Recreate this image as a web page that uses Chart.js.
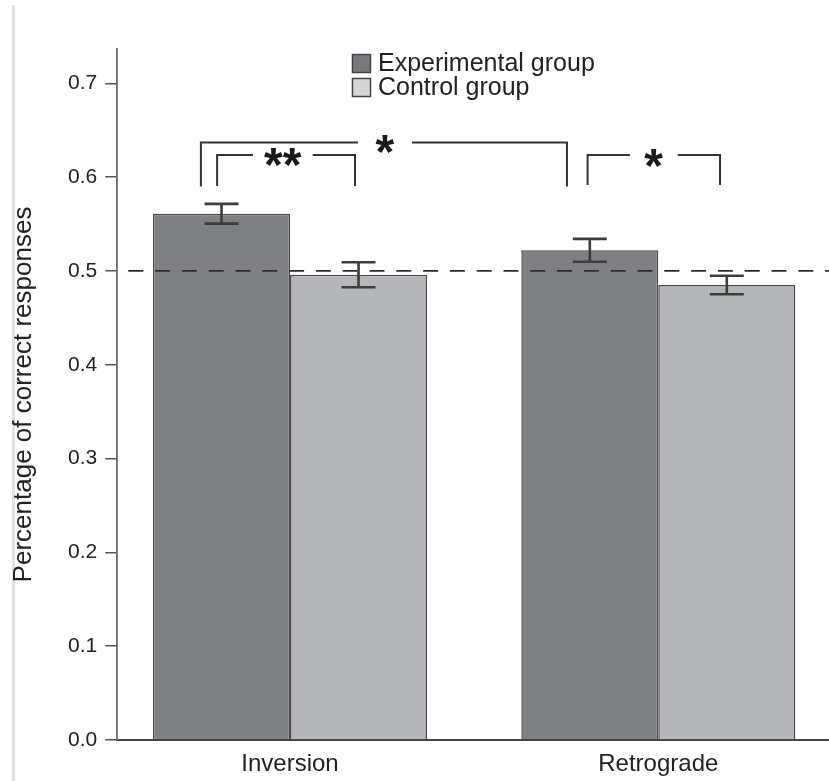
<!DOCTYPE html>
<html><head><meta charset="utf-8">
<script src="https://cdn.jsdelivr.net/npm/chart.js@4/dist/chart.umd.min.js"></script>
<style>html,body{margin:0;padding:0;background:#fff;}#wrap{width:829px;height:781px;position:relative;}</style>
</head><body><div id="wrap"><canvas id="c" width="829" height="781"></canvas></div>
<script>
// ---- data ----
const categories = ['Inversion', 'Retrograde'];
const seriesNames = ['Experimental group', 'Control group'];
const experimental = [0.561, 0.522];
const experimentalErr = [0.0105, 0.0122];
const control = [0.496, 0.485];
const controlErr = [0.0133, 0.0099];
const yTickValues = [0.0, 0.1, 0.2, 0.3, 0.4, 0.5, 0.6, 0.7];
const chanceLevel = 0.5;
// significance brackets, x in category-index units, y in value units
const bracketFrom = [-0.242, -0.198, 0.808];
const bracketTo = [0.752, 0.1765, 1.1676];
const bracketTop = [0.637, 0.6237, 0.6237];
const bracketBottom = [0.590, 0.5906, 0.5917];
const bracketGapFrom = [0.185, -0.1005, 0.923];
const bracketGapTo = [0.331, 0.0616, 1.0527];
const bracketLabelY = [0.635, 0.6215, 0.6205];
const bracketLabels = ['*', '**', '*'];

// ---- styles ----
const expColor = '#7f8084';
const ctrlColor = '#b5b6b9';
const expLegendColor = '#77787c';
const ctrlLegendColor = '#d6d6d6';
const edgeColor = '#4a4a4a';
const inkColor = '#333333';
const font = "'Liberation Sans', Arial, Helvetica, sans-serif";

const overlay = {
  id: 'overlay',
  beforeDraw(chart) {
    const ctx = chart.ctx;
    ctx.save();
    ctx.strokeStyle = '#e2e2e2';
    ctx.lineWidth = 3;
    ctx.beginPath(); ctx.moveTo(13.5, 5); ctx.lineTo(13.5, chart.height); ctx.stroke();
    ctx.restore();
  },
  afterDatasetsDraw(chart) {
    const ctx = chart.ctx, xs = chart.scales.x, ys = chart.scales.y, area = chart.chartArea;
    ctx.save();
    // chance line
    const yc = ys.getPixelForValue(chanceLevel);
    ctx.strokeStyle = '#2e2b33';
    ctx.lineWidth = 1.8;
    ctx.setLineDash([15, 11.8]);
    ctx.lineDashOffset = 15.8;
    ctx.beginPath(); ctx.moveTo(area.left, yc); ctx.lineTo(area.right, yc); ctx.stroke();
    ctx.setLineDash([]);
    // error bars
    const errs = [experimentalErr, controlErr];
    const vals = [experimental, control];
    ctx.strokeStyle = '#3a3e37';
    ctx.lineWidth = 2.6;
    for (let d = 0; d < 2; d++) {
      const meta = chart.getDatasetMeta(d);
      meta.data.forEach((bar, i) => {
        const x = bar.x;
        const yt = ys.getPixelForValue(vals[d][i] + errs[d][i]);
        const yb = ys.getPixelForValue(vals[d][i] - errs[d][i]);
        const hw = bar.width * 0.124;
        ctx.beginPath();
        ctx.moveTo(x, yt); ctx.lineTo(x, yb);
        ctx.moveTo(x - hw, yt); ctx.lineTo(x + hw, yt);
        ctx.moveTo(x - hw, yb); ctx.lineTo(x + hw, yb);
        ctx.stroke();
      });
    }
    // brackets
    ctx.strokeStyle = inkColor;
    ctx.lineWidth = 2;
    ctx.fillStyle = '#1a1a1a';
    ctx.font = 'bold 48px ' + font;
    for (let b = 0; b < bracketLabels.length; b++) {
      const x1 = xs.getPixelForValue(bracketFrom[b]);
      const x2 = xs.getPixelForValue(bracketTo[b]);
      const g1 = xs.getPixelForValue(bracketGapFrom[b]);
      const g2 = xs.getPixelForValue(bracketGapTo[b]);
      const yt = ys.getPixelForValue(bracketTop[b]);
      const yb = ys.getPixelForValue(bracketBottom[b]);
      ctx.beginPath();
      ctx.moveTo(x1, yb); ctx.lineTo(x1, yt); ctx.lineTo(g1, yt);
      ctx.moveTo(g2, yt); ctx.lineTo(x2, yt); ctx.lineTo(x2, yb);
      ctx.stroke();
      const m = ctx.measureText(bracketLabels[b]);
      const cx = (g1 + g2) / 2;
      const cy = ys.getPixelForValue(bracketLabelY[b]);
      ctx.textAlign = 'left';
      ctx.textBaseline = 'alphabetic';
      const x0 = cx - (m.actualBoundingBoxRight - m.actualBoundingBoxLeft) / 2;
      const y0 = cy + (m.actualBoundingBoxAscent - m.actualBoundingBoxDescent) / 2;
      ctx.fillText(bracketLabels[b], x0, y0);
    }
    // legend
    const legendColors = [expLegendColor, ctrlLegendColor];
    ctx.font = '25px ' + font;
    ctx.textBaseline = 'middle';
    ctx.textAlign = 'left';
    for (let s = 0; s < seriesNames.length; s++) {
      const top = 54.5 + s * 24;
      ctx.fillStyle = legendColors[s];
      ctx.fillRect(352.5, top, 18, 18);
      ctx.strokeStyle = '#444';
      ctx.lineWidth = 1.5;
      ctx.strokeRect(352.5, top, 18, 18);
      ctx.fillStyle = '#222';
      ctx.fillText(seriesNames[s], 378, top + 10);
    }
    ctx.restore();
  }
};

new Chart(document.getElementById('c'), {
  type: 'bar',
  data: {
    datasets: [
      { label: seriesNames[0], data: categories.map((c, i) => ({ x: i, y: experimental[i] })),
        backgroundColor: expColor, borderColor: edgeColor, borderWidth: 1.5 },
      { label: seriesNames[1], data: categories.map((c, i) => ({ x: i, y: control[i] })),
        backgroundColor: ctrlColor, borderColor: edgeColor, borderWidth: 1.5 }
    ]
  },
  options: {
    responsive: false,
    animation: false,
    devicePixelRatio: 1,
    categoryPercentage: 0.744,
    barPercentage: 1.0,
    layout: { padding: { top: 49, right: 0, left: 0, bottom: 0 } },
    plugins: { legend: { display: false }, tooltip: { enabled: false } },
    scales: {
      x: {
        type: 'linear',
        offset: false,
        min: -0.469, max: 1.4635,
        afterBuildTicks: (s) => { s.ticks = categories.map((c, i) => ({ value: i })); },
        afterFit: (s) => { s.height = 41; },
        grid: { display: false, drawTicks: false, offset: false },
        border: { display: true, color: '#444', width: 2 },
        ticks: { callback: (v) => categories[v] ?? '', color: '#222', font: { family: font, size: 24 }, padding: 10, maxRotation: 0, autoSkip: false }
      },
      y: {
        min: 0, max: 0.7366,
        afterBuildTicks: (s) => { s.ticks = yTickValues.map(v => ({ value: v })); },
        afterFit: (s) => { s.width = 117.3; },
        grid: { drawOnChartArea: false, tickLength: 12, color: '#555', lineWidth: 1.5 },
        border: { display: true, color: '#6a6a6a', width: 1.8 },
        ticks: { callback: (v) => Number(v).toFixed(1), color: '#222', font: { family: font, size: 21 }, padding: 8 },
        title: { display: true, text: 'Percentage of correct responses', color: '#222', font: { family: font, size: 26 }, padding: { top: 8, bottom: 0 } }
      }
    }
  },
  plugins: [overlay]
});
</script></body></html>
